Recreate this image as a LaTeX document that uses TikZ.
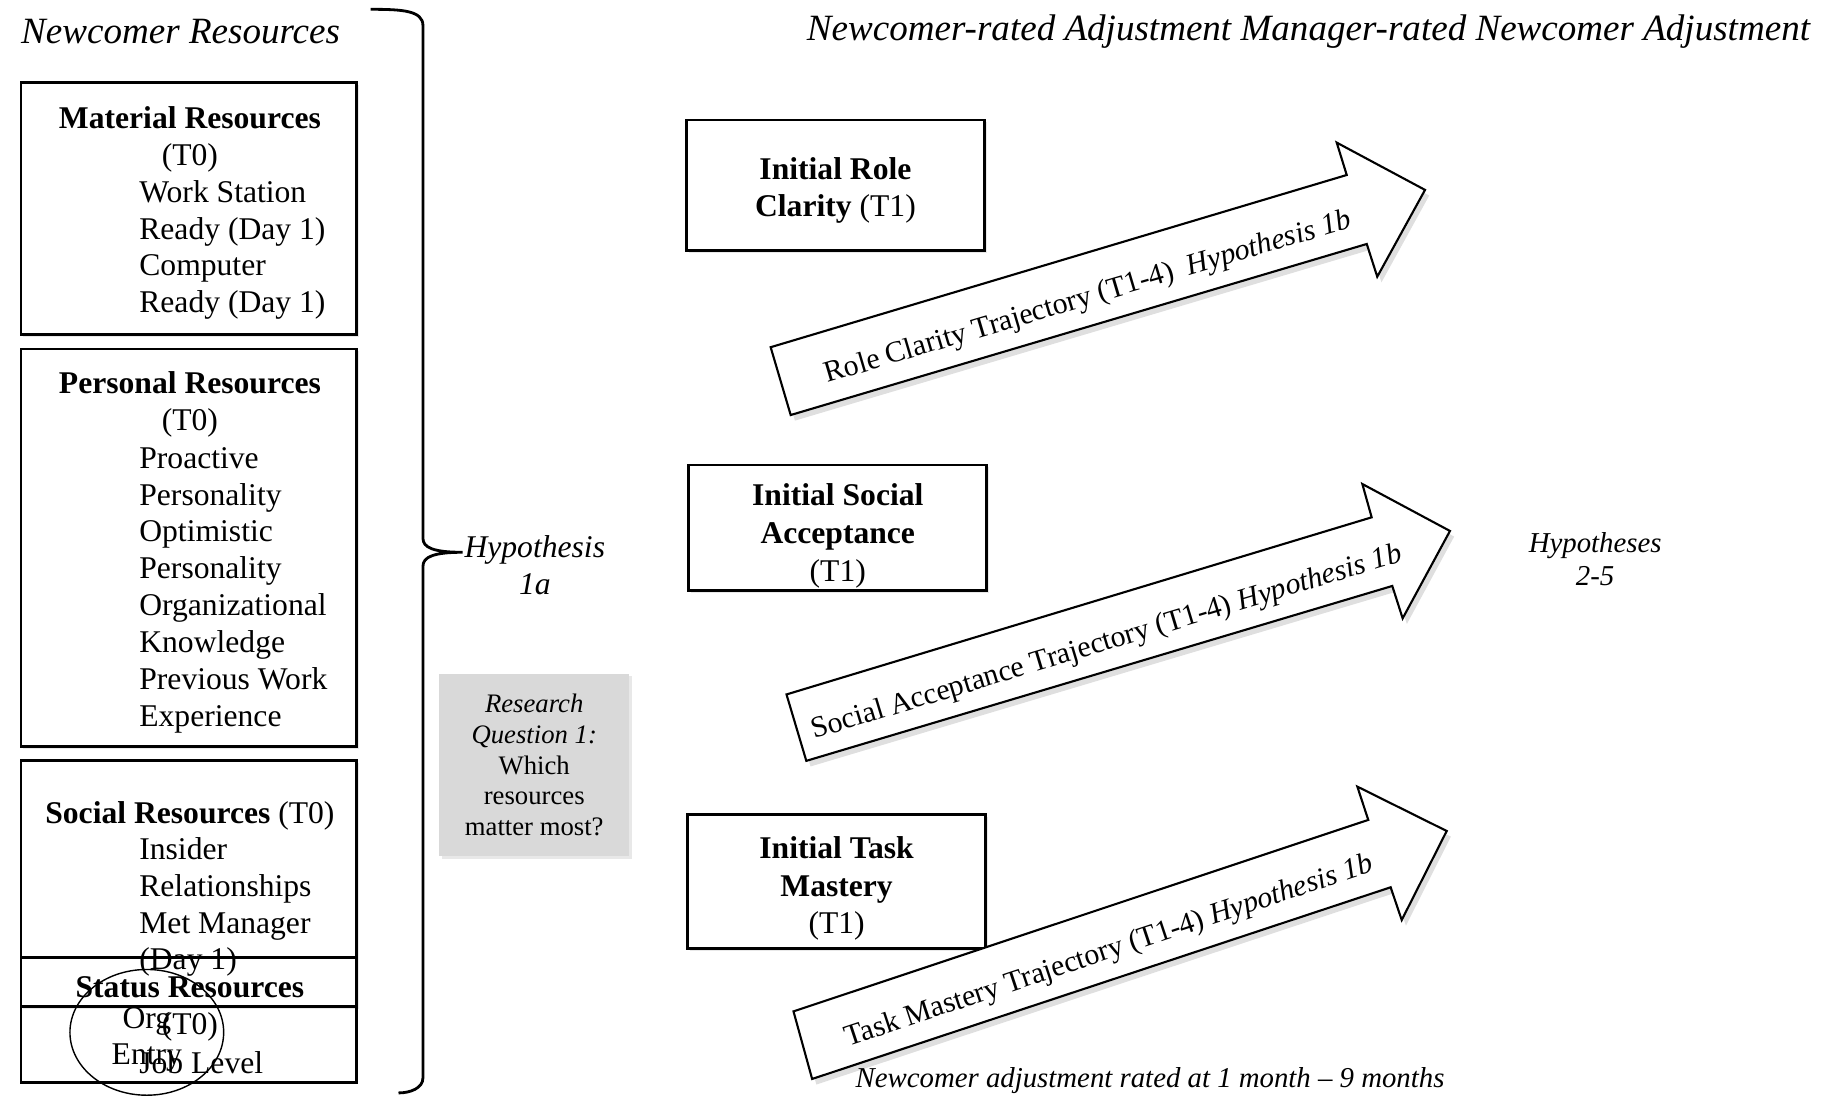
\documentclass[tikz,border=0pt]{standalone}
\usepackage{fontspec}
\setmainfont{Liberation Serif}
\usetikzlibrary{shapes.geometric, shadows, fit}
\tikzstyle{softshadow} = [drop shadow={shadow xshift=0.7pt, shadow yshift=-0.7pt, opacity=0.18}]
\tikzstyle{resbox} = [rectangle, draw=black, line width=0.8pt, inner sep=0pt, fill=white, softshadow]
\tikzstyle{restitle} = [align=center, inner sep=0pt, font=\fontsize{9}{10.5}\selectfont]
\tikzstyle{reslist} = [anchor=west, align=left, inner sep=0pt, font=\fontsize{9}{10.5}\selectfont]
\tikzstyle{initbox} = [rectangle, draw=black, line width=0.8pt, fill=white, minimum width=2.983cm, softshadow]
\tikzstyle{inittxt} = [align=center, inner sep=0pt, font=\fontsize{9}{10.7}\selectfont]
\tikzstyle{traj} = [draw=black, line width=0.6pt, fill=white, drop shadow={shadow xshift=1.2pt, shadow yshift=-1.6pt, opacity=0.25}]
\tikzstyle{trajlabel} = [inner sep=0pt, font=\fontsize{8.5}{10}\selectfont]
\tikzstyle{heading} = [inner sep=0pt, font=\fontsize{10.55}{12}\selectfont\itshape]
\tikzstyle{note} = [inner sep=0pt, align=center, font=\fontsize{8.2}{9.3}\selectfont\itshape]

\begin{document}
\begin{tikzpicture}[x=0.011652cm, y=-0.011652cm]
	\useasboundingbox (0,0) rectangle (1568,940);
	% headings
	\node (reshead) [heading] at (155,27) {Newcomer Resources};
	\node (adjhead) [heading] at (1123,27) {Newcomer-rated Adjustment Manager-rated Newcomer Adjustment};
	% resource boxes
	\node (material) [resbox, fit={(18,71) (306,287)}] {};
	\node (personal) [resbox, fit={(18,299.5) (306,641)}] {};
	\node (social) [resbox, fit={(18,653) (306,864)}] {};
	\draw [line width=0.8pt] (18,822) rectangle (306,929);
	\node (status) [inner sep=0pt, fit={(18,822) (306,929)}] {};
	\node (materialhd) [restitle] at (163,119.5) {\textbf{Material Resources}\\(T0)};
	\node (materialls) [reslist] at (119,214.5) {Work Station\\Ready (Day 1)\\Computer\\Ready (Day 1)};
	\node (personalhd) [restitle] at (163,347) {\textbf{Personal Resources}\\(T0)};
	\node (personalls) [reslist] at (119,506.5) {Proactive\\Personality\\Optimistic\\Personality\\Organizational\\Knowledge\\Previous Work\\Experience};
	\node (socialhd) [restitle] at (163,700) {\textbf{Social Resources} (T0)};
	\node (socialls) [reslist] at (119,778.5) {Insider\\Relationships\\Met Manager\\(Day 1)};
	\node (statushd) [restitle] at (163,866) {\textbf{Status Resources}\\(T0)};
	\node (statusls) [reslist] at (119,912) {Job Level};
	\node (orgentry) [ellipse, draw=black, line width=0.4pt, minimum width=1.538cm, minimum height=1.258cm] at (126,886) {};
	\node (orgentrytxt) [align=center, inner sep=0pt, font=\fontsize{9}{10.4}\selectfont] at (126,892) {Org\\Entry};
	% brace
	\coordinate (bracetip) at (397,474);
	\draw [line width=0.8pt] (318,8) .. controls (345,8) and (363,9) .. (363,22) -- (363,462) .. controls (363,470) and (372,474) .. (bracetip) .. controls (372,474) and (363,478) .. (363,486) -- (363,925) .. controls (363,934) and (352,938) .. (342,938);
	\node (hypa) [inner sep=0pt, align=center, font=\fontsize{9}{10.6}\selectfont\itshape] at (459,485) {Hypothesis\\1a};
	\node (rq) [rectangle, fill=black!15, minimum width=1.899cm, minimum height=1.829cm, align=center, inner sep=0pt, font=\fontsize{7.6}{8.76}\selectfont, softshadow] at (458.5,656.5) {\textit{Research}\\\textit{Question 1:}\\Which\\resources\\matter most?};
	% initial adjustment
	\node (roleinit) [initbox, minimum height=1.305cm] at (717,159) {};
	\node (socialinit) [initbox, minimum height=1.258cm] at (719,453) {};
	\node (taskinit) [initbox, minimum height=1.340cm] at (718,756.5) {};
	\node (roleinittxt) [inittxt] at (717,163.5) {\textbf{Initial Role}\\\textbf{Clarity} (T1)};
	\node (socialinittxt) [inittxt] at (719,460) {\textbf{Initial Social}\\\textbf{Acceptance}\\(T1)};
	\node (taskinittxt) [inittxt] at (718,762.5) {\textbf{Initial Task}\\\textbf{Mastery}\\(T1)};
	% trajectories
	\draw [traj] (661.4,298) -- (1155.8,150.2) -- (1147.2,122.4) -- (1223,163) -- (1182,237.5) -- (1173,209.4) -- (678.6,356.2) -- cycle;
	\draw [traj] (675,596) -- (1177.2,444) -- (1169.2,415.4) -- (1244.4,455.7) -- (1203.8,530.7) -- (1194.9,502.9) -- (692,653) -- cycle;
	\draw [traj] (681,868) -- (1174.3,703.7) -- (1164.9,675.1) -- (1241.6,713.2) -- (1203,789.6) -- (1193.5,761.5) -- (697,926) -- cycle;
	\node (rolelbl) [trajlabel, rotate=16.5] at (934,256) {Role Clarity Trajectory (T1-4)\ \ \textit{Hypothesis 1b}};
	\node (sociallbl) [trajlabel, rotate=16.8] at (950,552) {Social Acceptance Trajectory (T1-4) \textit{Hypothesis 1b}};
	\node (tasklbl) [trajlabel, rotate=18.4] at (952,817) {Task Mastery Trajectory (T1-4) \textit{Hypothesis 1b}};
	% outcomes
	\node (hyplater) [note] at (1369,480) {Hypotheses\\2-5};
	\node (timing) [note] at (987,927) {Newcomer adjustment rated at 1 month – 9 months};
\end{tikzpicture}
\end{document}
